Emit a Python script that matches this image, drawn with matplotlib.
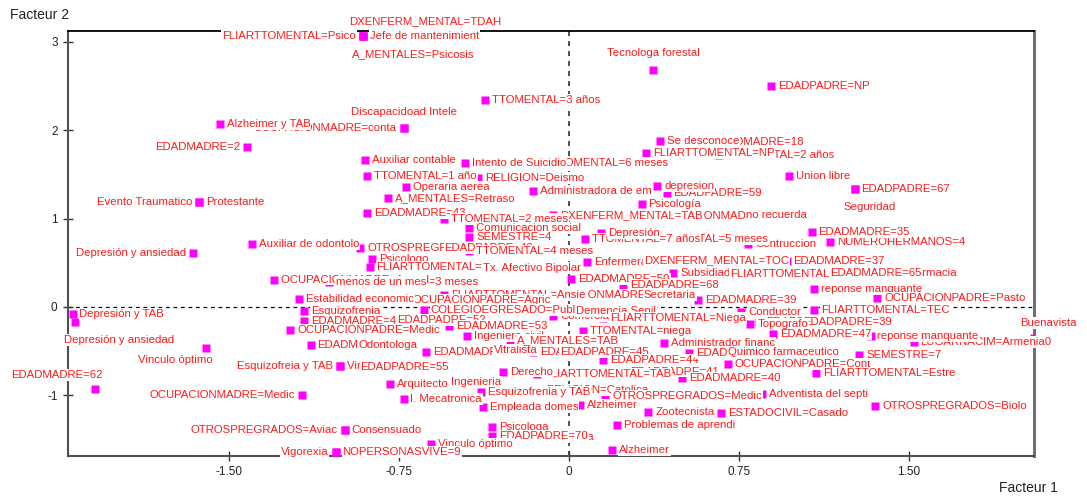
import matplotlib.pyplot as plt

plt.rcParams['font.family'] = ['Liberation Sans', 'DejaVu Sans']

# category labels, in drawing order (later labels sit on top of earlier ones)
labels = [
    'FLIARTTOMENTAL=Psico', 'Jefe de mantenimient', 'DXENFERM_MENTAL=TDAH', 'A_MENTALES=Psicosis',
    'Discapacidoad Intele', 'OCUPACIONMADRE=conta', 'Alzheimer y TAB', 'EDADMADRE=2',
    'TTOMENTAL=3 años', 'Tecnologa forestal',
    'EDADPADRE=NP', 'EDADMADRE=18', 'Se desconoce', 'TTOMENTAL=2 años', 'FLIARTTOMENTAL=NP',
    'TTOMENTAL=6 meses', 'Intento de Suicidio', 'Auxiliar contable', 'Union libre', 'EDADPADRE=67',
    'Seguridad', 'RELIGION=Deismo', 'TTOMENTAL=1 año', 'Operaria aerea', 'Administradora de em',
    'EDADPADRE=59', 'depresion', 'A_MENTALES=Retraso', 'Psicología', 'OCUPACIONMADRE=Hogar',
    'no recuerda', 'DXENFERM_MENTAL=TAB', 'EDADMADRE=43', 'TTOMENTAL=2 meses', 'NUMEROHERMANOS=4',
    'EDADMADRE=35', 'EDADMADRE=37', 'Contruccion', 'TTOMENTAL=5 meses', 'TTOMENTAL=7 años',
    'Depresión', 'Comunicacion social', 'SEMESTRE=4', 'OTROSPREGRADOS=Enfer', 'EDADPADRE=48',
    'TTOMENTAL=4 meses', 'Psicologo', 'Auxiliar de odontolo', 'FLIARTTOMENTAL=Depre', 'Tx. Afectivo Bipolar',
    'Enfermera', 'DXENFERM_MENTAL=TOC', 'EDADMADRE=50', 'Subsidiado', 'FLIARTTOMENTAL=TDH',
    'Farmacia', 'EDADMADRE=65', 'EDADPADRE=68', 'reponse manquante', 'OCUPACIONPADRE=Pasto',
    'TTOMENTAL=3 meses', 'OCUPACIONMADRE=Ama d', 'menos de un mes', 'OCUPACIONMADRE=Fisio', 'FLIARTTOMENTAL=Ansie',
    'Secretaria', 'EDADMADRE=39', 'OCUPACIONPADRE=Agric', 'Estabilidad economic', 'Comerciante',
    'Demencia Senil', 'COLEGIOEGRESADO=Publ', 'Esquizofrenia', 'EDADMADRE=45', 'EDADPADRE=52',
    'EDADMADRE=53', 'Conductor', 'FLIARTTOMENTAL=TEC', 'EDADPADRE=42', 'EDADPADRE=39',
    'Topografo', 'FLIARTTOMENTAL=Niega', 'TTOMENTAL=niega', 'EDADMADRE=47', 'LUGARNACIM=Armenia0',
    'reponse manquante', 'Buenavista', 'OCUPACIONPADRE=Medic', 'EDADMADRE=51', 'Odontologa',
    'EDADMADRE=49', 'Ingeniero civil', 'Vitralista', 'A_MENTALES=TAB', 'EDADMADRE=55',
    'EDADPADRE=45', 'EDADPADRE=44', 'Administrador financ', 'EDADMADRE=36', 'Quimico farmaceutico',
    'OCUPACIONPADRE=Cont', 'SEMESTRE=7', 'FLIARTTOMENTAL=Estre', 'EDADPADRE=41', 'EDADMADRE=40',
    'FLIARTTOMENTAL=TAB', 'Derecho', 'Ingenieria', 'Arquitecto', 'I. Mecatronica',
    'RELIGION=Catolica', 'Esquizofrenia y TAB', 'OTROSPREGRADOS=Medic', 'Adventista del septi', 'OTROSPREGRADOS=Biolo',
    'Alzheimer', 'Empleada domes', 'Zootecnista', 'ESTADOCIVIL=Casado', 'Cariñosa',
    'Psicologa', 'EDADPADRE=70', 'Problemas de aprendi', 'Alzheimer', 'Vinculo óptimo',
    'Vigorexia', 'NOPERSONASVIVE=9', 'Consensuado', 'OTROSPREGRADOS=Aviac', 'OCUPACIONMADRE=Medic',
    'Esquizofreia y TAB', 'Vinculo afectivo', 'EDADPADRE=55', 'Depresión y TAB', 'Depresión y ansiedad',
    'Vinculo óptimo', 'EDADMADRE=62', 'Evento Traumatico', 'Protestante', 'Depresión y ansiedad',
]

# Facteur 1 coordinates
fact1 = [
    -0.91, -0.91, -0.91, -0.91, -0.73, -0.73, -1.54, -1.42, -0.37, 0.37,
    0.89, 0.60, 0.40, 0.66, 0.34, -0.11, -0.46, -0.90, 0.97, 1.26,
    1.26, -0.40, -0.89, -0.72, -0.16, 0.43, 0.39, -0.80, 0.32, 0.34,
    0.75, -0.07, -0.89, -0.55, 1.15, 1.07, 0.96, 0.79, 0.33, 0.07,
    0.14, -0.44, -0.44, -0.92, -0.58, -0.44, -0.87, -1.40, -0.88, -0.41,
    0.08, 0.30, 0.01, 0.46, 0.68, 1.47, 1.12, 0.24, 1.08, 1.36,
    -0.95, -1.30, -1.06, -0.17, -0.55, 0.30, 0.57, -0.72, -1.19, -0.07,
    0.00, -0.64, -1.17, -1.17, -0.79, -0.53, 0.76, 1.08, 0.84, 1.00,
    0.80, 0.15, 0.06, 0.90, 1.52, 1.33, 2.05, -1.23, -1.14, -0.96,
    -0.63, -0.45, -0.36, -0.26, -0.16, -0.07, 0.15, 0.42, 0.53, 0.67,
    0.70, 1.28, 1.09, 0.24, 0.50, -0.14, -0.29, -0.55, -0.79, -0.73,
    -0.13, -0.39, 0.16, 0.85, 1.35, 0.05, -0.38, 0.35, 0.67, -0.12,
    -0.34, -0.34, 0.21, 0.19, -0.61, -1.03, -1.03, -0.99, -0.99, -1.18,
    -1.01, -1.01, -0.95, -2.19, -2.18, -1.60, -2.09, -1.63, -1.63, -1.66,
]

# Facteur 2 coordinates
fact2 = [
    3.06, 3.06, 3.06, 3.06, 2.02, 2.02, 2.07, 1.81, 2.34, 2.68,
    2.50, 1.86, 1.88, 1.72, 1.74, 1.63, 1.63, 1.66, 1.48, 1.33,
    1.33, 1.46, 1.48, 1.36, 1.31, 1.29, 1.37, 1.23, 1.16, 1.03,
    1.04, 1.04, 1.06, 0.99, 0.73, 0.85, 0.52, 0.71, 0.77, 0.77,
    0.84, 0.89, 0.79, 0.67, 0.67, 0.63, 0.54, 0.71, 0.45, 0.44,
    0.51, 0.53, 0.32, 0.38, 0.37, 0.38, 0.38, 0.25, 0.20, 0.10,
    0.28, 0.31, 0.28, 0.14, 0.14, 0.14, 0.08, 0.08, 0.09, -0.10,
    -0.05, -0.03, -0.05, -0.16, -0.15, -0.21, -0.06, -0.03, -0.17, -0.17,
    -0.19, -0.12, -0.27, -0.31, -0.40, -0.33, -0.35, -0.26, -0.43, -0.43,
    -0.51, -0.33, -0.49, -0.37, -0.51, -0.51, -0.60, -0.41, -0.52, -0.51,
    -0.64, -0.54, -0.75, -0.73, -0.80, -0.76, -0.73, -0.85, -0.87, -1.04,
    -0.94, -0.96, -1.01, -0.98, -1.12, -1.11, -1.13, -1.19, -1.20, -1.47,
    -1.36, -1.46, -1.33, -1.62, -1.55, -1.64, -1.64, -1.39, -1.39, -0.99,
    -0.67, -0.67, -0.68, -0.08, -0.17, -0.46, -0.93, 1.19, 1.19, 0.61,
]

# where the label sits relative to its point
sides = [
    'l', 'r', 'ar', 'br', 'a', 'l', 'r', 'l', 'r', 'a',
    'r', 'r', 'r', 'r', 'r', 'r', 'r', 'r', 'r', 'r',
    'br', 'r', 'r', 'r', 'r', 'r', 'r', 'r', 'r', 'r',
    'r', 'r', 'r', 'r', 'r', 'r', 'r', 'r', 'r', 'r',
    'r', 'r', 'r', 'r', 'r', 'r', 'r', 'r', 'r', 'r',
    'r', 'r', 'r', 'r', 'r', 'r', 'r', 'r', 'r', 'r',
    'r', 'r', 'r', 'r', 'r', 'r', 'r', 'r', 'r', 'r',
    'r', 'r', 'r', 'r', 'r', 'r', 'r', 'r', 'r', 'r',
    'r', 'r', 'r', 'r', 'r', 'r', 'ar', 'r', 'r', 'r',
    'r', 'r', 'r', 'r', 'r', 'r', 'r', 'r', 'r', 'r',
    'r', 'r', 'r', 'r', 'r', 'r', 'r', 'r', 'r', 'r',
    'r', 'r', 'r', 'r', 'r', 'r', 'r', 'r', 'r', 'r',
    'r', 'r', 'r', 'r', 'r', 'l', 'r', 'r', 'l', 'l',
    'l', 'r', 'r', 'r', 'br', 'bl', 'al', 'l', 'r', 'l',
]

# label placement: offset in points, horizontal alignment
placement = {
    'r': (5, 0, 'left'), 'l': (-5, 0, 'right'),
    'a': (0, 12, 'center'), 'b': (0, -12, 'center'),
    'ar': (-10, 11, 'left'), 'al': (5, 10, 'right'),
    'br': (-8, -13, 'left'), 'bl': (5, -9, 'right'),
}

fig = plt.figure(figsize=(10.87, 4.96), dpi=100)
ax = fig.add_axes([68 / 1087, 40 / 496, 966 / 1087, 425 / 496])
ax.set_xlim(-2.21, 2.051)
ax.set_ylim(-1.684, 3.119)

ax.axhline(0, color='black', lw=0.9, ls=(0, (3, 3)), zorder=1)
ax.axvline(0, color='#333333', lw=1.2, ls=(0, (3, 3)), zorder=1)

ax.plot(fact1, fact2, 's', ms=5.6, color='#ff00ff', mec='none', zorder=3)

for lab, x, y, s in zip(labels, fact1, fact2, sides):
    dx, dy, ha = placement[s]
    ax.annotate(lab, (x, y), xytext=(dx, dy), textcoords='offset points',
                ha=ha, va='center', fontsize=8.2, color='#ff1a1a',
                bbox=dict(boxstyle='square,pad=0.08', fc='white', ec='none'),
                annotation_clip=False, zorder=4)

ax.set_xticks([-1.5, -0.75, 0, 0.75, 1.5])
ax.set_xticklabels(['-1.50', '-0.75', '0', '0.75', '1.50'])
ax.set_yticks([-1, 0, 1, 2, 3])
ax.set_yticklabels(['-1', '0', '1', '2', '3'])
ax.tick_params(direction='inout', length=7, width=1, colors='#333333',
               labelcolor='#222222', labelsize=8.5, pad=4)

for side in ['left', 'bottom']:
    ax.spines[side].set_color('#505050')
    ax.spines[side].set_linewidth(1.5)
ax.spines['top'].set_color('black')
ax.spines['top'].set_linewidth(1.3)
ax.spines['right'].set_color('#707070')
ax.spines['right'].set_linewidth(2.2)

fig.text(10 / 1087, 1 - 15 / 496, 'Facteur 2', ha='left', va='center', fontsize=10, color='#222222')
fig.text(1058 / 1087, 1 - 488 / 496, 'Facteur 1', ha='right', va='center', fontsize=10, color='#222222')

fig.savefig('out.png', dpi=100)
